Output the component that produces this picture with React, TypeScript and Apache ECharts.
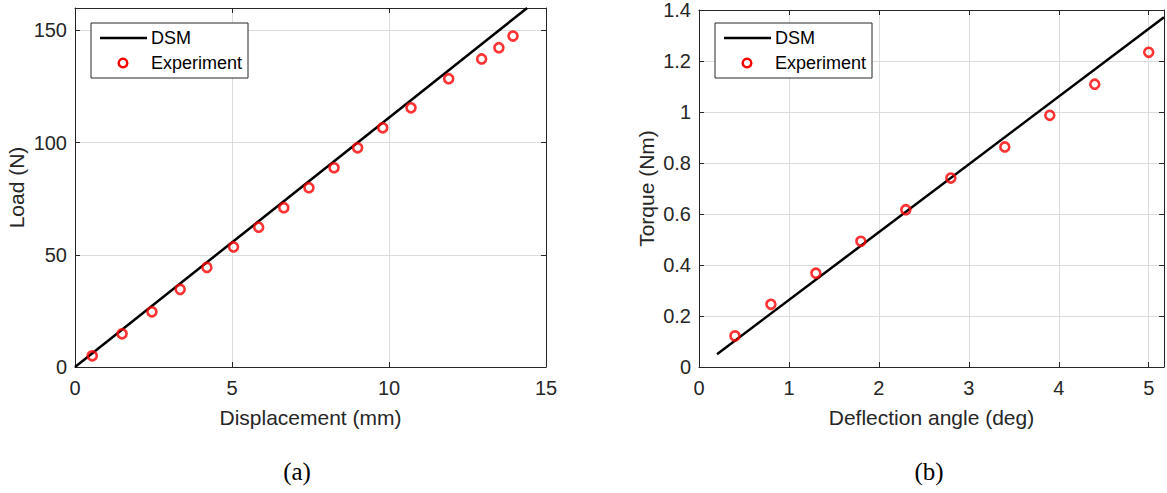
import React, { useEffect, useRef } from "react";
import * as echarts from "echarts";

// (a) Load vs displacement
const dsmDispX = [0, 14.4];
const dsmLoadY = [0, 160];
const expDispX = [0.55, 1.5, 2.45, 3.35, 4.2, 5.05, 5.85, 6.65, 7.45, 8.25, 9.0, 9.8, 10.7, 11.9, 12.95, 13.5, 13.95];
const expLoadY = [5.0, 14.8, 24.6, 34.6, 44.4, 53.5, 62.3, 71.0, 79.9, 88.8, 97.7, 106.6, 115.5, 128.5, 137.3, 142.3, 147.5];

// (b) Torque vs deflection angle
const dsmAngleX = [0.2, 5.17];
const dsmTorqueY = [0.05, 1.372];
const expAngleX = [0.4, 0.8, 1.3, 1.8, 2.3, 2.8, 3.4, 3.9, 4.4, 5.0];
const expTorqueY = [0.122, 0.246, 0.368, 0.493, 0.617, 0.741, 0.863, 0.987, 1.109, 1.234];

const legendNames = ["DSM", "Experiment"];
const xTitles = ["Displacement (mm)", "Deflection angle (deg)"];
const yTitles = ["Load (N)", "Torque (Nm)"];
const panelLabels = ["(a)", "(b)"];

const FONT = "Liberation Sans, Arial, Helvetica, sans-serif";
const SERIF = "Liberation Serif, Times New Roman, serif";
const AX = "#262626";
const GRID = "#dcdcdc";
const RED = "#ff0000";

function mainX(gridIndex: number, min: number, max: number, interval: number, name: string) {
  return {
    type: "value", gridIndex, min, max, interval, position: "bottom",
    name, nameLocation: "middle", nameGap: 40,
    nameTextStyle: { color: AX, fontSize: 21, fontFamily: FONT },
    axisLine: { show: true, onZero: false, lineStyle: { color: AX, width: 1 } },
    axisTick: { show: true, inside: true, length: 5, lineStyle: { color: AX } },
    axisLabel: {
      color: AX, fontSize: 20, fontFamily: FONT, margin: 11,
      formatter: (v: number) => (Math.abs(v - Math.round(v)) < 1e-9 ? String(Math.round(v)) : ""),
    },
    splitLine: { show: true, lineStyle: { color: GRID, width: 1 } },
  };
}
function mainY(gridIndex: number, min: number, max: number, interval: number, name: string, gap: number, showMax: boolean) {
  return {
    type: "value", gridIndex, min, max, interval, position: "left",
    name, nameLocation: "middle", nameGap: gap, nameRotate: 90,
    nameTextStyle: { color: AX, fontSize: 21, fontFamily: FONT },
    axisLine: { show: true, onZero: false, lineStyle: { color: AX, width: 1 } },
    axisTick: { show: true, inside: true, length: 5, lineStyle: { color: AX } },
    axisLabel: { color: AX, fontSize: 20, fontFamily: FONT, margin: 8, showMaxLabel: showMax },
    splitLine: { show: true, lineStyle: { color: GRID, width: 1 } },
  };
}
function mirror(type: "x" | "y", gridIndex: number, min: number, max: number, interval: number) {
  return {
    type: "value", gridIndex, min, max, interval,
    position: type === "x" ? "top" : "right",
    axisLine: { show: true, onZero: false, lineStyle: { color: AX, width: 1 } },
    axisTick: { show: true, inside: true, length: 5, lineStyle: { color: AX } },
    axisLabel: { show: false },
    splitLine: { show: false },
  };
}

function legendBox(x: number, y: number) {
  return {
    type: "group", x, y, z: 100,
    children: [
      { type: "rect", z: 100, shape: { x: 0, y: 0, width: 157, height: 55 }, style: { fill: "#fff", stroke: AX, lineWidth: 1 } },
      { type: "line", z: 101, shape: { x1: 9, y1: 15, x2: 56, y2: 15 }, style: { stroke: "#000", lineWidth: 2.5 } },
      { type: "text", z: 101, x: 60, y: 15, style: { text: legendNames[0], fill: "#000", fontSize: 18, fontFamily: FONT, verticalAlign: "middle" } },
      { type: "circle", z: 101, shape: { cx: 32, cy: 40, r: 4.3 }, style: { fill: "none", stroke: RED, lineWidth: 2.5 } },
      { type: "text", z: 101, x: 60, y: 40, style: { text: legendNames[1], fill: "#000", fontSize: 18, fontFamily: FONT, verticalAlign: "middle" } },
    ],
  };
}

export default function App() {
  const ref = useRef<HTMLDivElement>(null);
  useEffect(() => {
    if (!ref.current) return;
    const chart = echarts.init(ref.current, undefined, { renderer: "svg" });
    const pair = (xs: number[], ys: number[]) => xs.map((x, i) => [x, ys[i]]);
    chart.setOption({
      animation: false,
      backgroundColor: "#fff",
      grid: [
        { left: 75, top: 8, width: 471, height: 359 },
        { left: 699, top: 8, width: 468, height: 359 },
      ],
      xAxis: [
        mainX(0, 0, 15, 5, xTitles[0]),
        mirror("x", 0, 0, 15, 5),
        mainX(1, 0, 5.17, 1, xTitles[1]),
        mirror("x", 1, 0, 5.17, 1),
      ],
      yAxis: [
        mainY(0, 0, 160, 50, yTitles[0], 48, false),
        mirror("y", 0, 0, 160, 50),
        mainY(1, 0, 1.4, 0.2, yTitles[1], 42, true),
        mirror("y", 1, 0, 1.4, 0.2),
      ],
      series: [
        {
          name: legendNames[0], type: "line", xAxisIndex: 0, yAxisIndex: 0,
          data: pair(dsmDispX, dsmLoadY), showSymbol: false, symbol: "none",
          lineStyle: { color: "#000", width: 2.5 }, z: 3,
        },
        {
          name: legendNames[1], type: "scatter", xAxisIndex: 0, yAxisIndex: 0,
          data: pair(expDispX, expLoadY), symbol: "circle", symbolSize: 9,
          itemStyle: { color: "rgba(0,0,0,0)", borderColor: RED, borderWidth: 2.6 }, z: 4,
        },
        {
          name: legendNames[0], type: "line", xAxisIndex: 2, yAxisIndex: 2,
          data: pair(dsmAngleX, dsmTorqueY), showSymbol: false, symbol: "none",
          lineStyle: { color: "#000", width: 2.5 }, z: 3,
        },
        {
          name: legendNames[1], type: "scatter", xAxisIndex: 2, yAxisIndex: 2,
          data: pair(expAngleX, expTorqueY), symbol: "circle", symbolSize: 9,
          itemStyle: { color: "rgba(0,0,0,0)", borderColor: RED, borderWidth: 2.6 }, z: 4,
        },
      ],
      graphic: [
        legendBox(91, 23),
        legendBox(715, 23),
        { type: "text", x: 297, y: 471, style: { text: panelLabels[0], fill: "#000", fontSize: 25, fontFamily: SERIF, align: "center", verticalAlign: "middle" } },
        { type: "text", x: 929, y: 471, style: { text: panelLabels[1], fill: "#000", fontSize: 25, fontFamily: SERIF, align: "center", verticalAlign: "middle" } },
      ],
    });
    return () => chart.dispose();
  }, []);
  return <div ref={ref} style={{ position: "absolute", left: 0, top: 0, width: 1167, height: 493 }} />;
}
